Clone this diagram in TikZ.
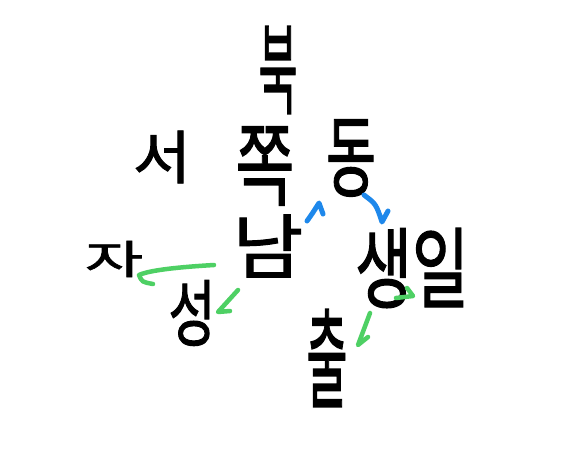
\documentclass[tikz,border=0pt]{standalone}
\usepackage{fontspec}
\usepackage{graphicx}
\newfontfamily\kr{Noto Sans CJK KR}[FakeBold=1.5]
\definecolor{penblue}{RGB}{30,136,235}
\definecolor{pengreen}{RGB}{78,208,100}
\newcommand{\hw}[3]{\resizebox{#1pt}{#2pt}{\kr #3}}
\tikzset{
  word/.style={inner sep=0pt, outer sep=0pt, text=black},
  blueline/.style={draw=penblue, line width=5pt, line cap=round, line join=round},
  greenline/.style={draw=pengreen, line width=4.5pt, line cap=round, line join=round}
}
\begin{document}
\begin{tikzpicture}[x=1pt,y=-1pt]
\useasboundingbox[fill=white] (0,0) rectangle (572,452);
% words
\node[word] (buk)  at (278,70)  {\hw{39}{80}{북}};
\node[word] (jjok) at (265,166) {\hw{59}{72}{쪽}};
\node[word] (seo)  at (162,157) {\hw{58}{48}{서}};
\node[word] (dong) at (351,158) {\hw{50}{70}{동}};
\node[word] (nam)  at (268,246) {\hw{70}{58}{남}};
\node[word] (ja)   at (114,259) {\hw{58}{33}{자}};
\node[word] (seong) at (192,313) {\hw{47}{60}{성}};
\node[word] (saengil) at (412,268) {\hw{114}{73}{생일}};
\node[word] (chul) at (327,358) {\hw{41}{90}{출}};
% arrow points
\coordinate (b1s) at (307,221);
\coordinate (b1p) at (319,203);
\coordinate (b1e) at (323,214);
\coordinate (b2s) at (364,195);
\coordinate (b2p) at (382,222);
\coordinate (b2e) at (388,211);
\coordinate (g1s) at (214,265);
\coordinate (g1p) at (139,275);
\coordinate (g1e) at (153,284);
\coordinate (g2s) at (238,290);
\coordinate (g2p) at (218,312);
\coordinate (g2e) at (230,311);
\coordinate (g3s) at (396,298);
\coordinate (g3p) at (413,296);
\coordinate (g3e) at (407,288);
\coordinate (g4s) at (370,313);
\coordinate (g4p) at (358,345);
\coordinate (g4e) at (368,337);
% connectors
\draw[blueline] (b1s) .. controls (312,214) .. (b1p) -- (b1e);
\draw[blueline] (b2s) .. controls (376,204) .. (b2p) -- (b2e);
\draw[greenline] (g1s) .. controls (180,267) and (150,270) .. (g1p) .. controls (142,282) .. (g1e);
\draw[greenline] (g2s) -- (g2p) -- (g2e);
\draw[greenline] (g3s) -- (g3p) -- (g3e);
\draw[greenline] (g4s) -- (g4p) -- (g4e);
\end{tikzpicture}
\end{document}
